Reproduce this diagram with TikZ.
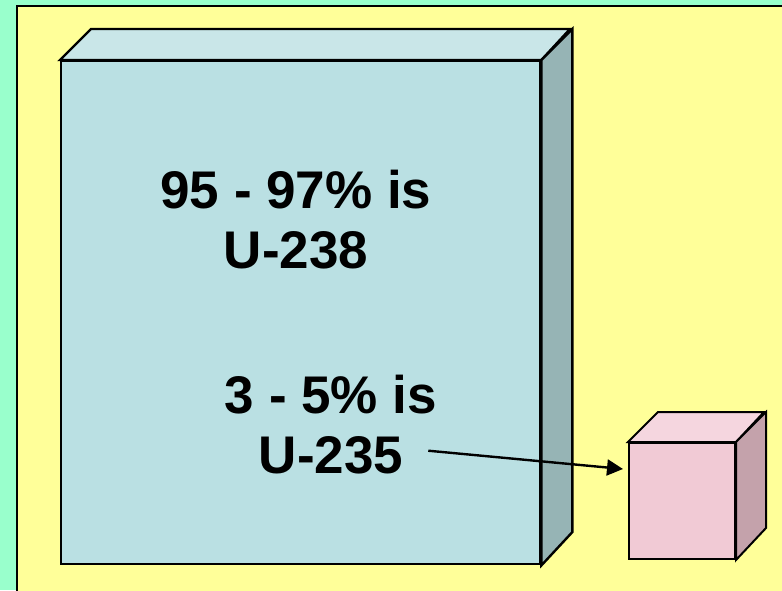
\documentclass[tikz,border=0pt]{standalone}
\usepackage{fontspec}
\setmainfont{Liberation Sans}
\usetikzlibrary{arrows.meta,calc}
\definecolor{mint}{HTML}{99FFCC}
\definecolor{paper}{HTML}{FFFF99}
\definecolor{bluefront}{HTML}{BAE0E3}
\definecolor{bluetop}{HTML}{C9E6E8}
\definecolor{blueside}{HTML}{96B4B5}
\definecolor{pinkfront}{HTML}{F1CAD5}
\definecolor{pinktop}{HTML}{F5D6DF}
\definecolor{pinkside}{HTML}{C4A2AB}
\tikzset{
  face/.style={draw=black, line width=2.4pt, line join=miter},
  smallface/.style={draw=black, line width=2pt, line join=miter},
  label/.style={font=\bfseries\fontsize{53}{60}\selectfont, align=center, inner sep=0pt},
  pointer/.style={draw=black, line width=2.4pt, -{Triangle[length=16pt,width=16pt]}}
}
\begin{document}
\begin{tikzpicture}[x=1pt,y=-1pt]
\useasboundingbox (0,0) rectangle (782,590);
\fill[mint] (0,0) rectangle (782,590);
% yellow sheet running off the right and bottom edges
\begin{scope}
\clip (0,0) rectangle (782,590);
\draw[fill=paper, line width=2.4pt] (17,6) rectangle (820,620);
\end{scope}

% large block: front, top and side faces
\node[face, fill=bluefront, minimum width=479pt, minimum height=503pt, inner sep=0pt, anchor=north west] (big) at (60,60) {};
\draw[face, fill=bluetop] (big.north west) -- ++(31,-31) -- ++(479,0) -- (big.north east) -- cycle;
\draw[face, fill=blueside] (big.north east) -- ++(31,-31) -- ++(0,503) -- (big.south east) -- cycle;

% small cube: front, top and side faces
\node[smallface, fill=pinkfront, minimum width=106pt, minimum height=116pt, inner sep=0pt, anchor=north west] (small) at (628,442) {};
\draw[smallface, fill=pinktop] (small.north west) -- ++(30,-30) -- ++(106,0) -- (small.north east) -- cycle;
\draw[smallface, fill=pinkside] (small.north east) -- ++(30,-30) -- ++(0,116) -- (small.south east) -- cycle;

% labels
\node[label] (u238) at (296,220) {95 - 97\% is\\U-238};
\node[label] (u235) at (331,425) {3 - 5\% is\\U-235};

% pointer from the U-235 label to the small cube
\coordinate (tail) at ($(u235.south east)+(-9,-24)$);
\coordinate (head) at ($(small.west)+(-5,-32)$);
\draw[pointer] (tail) -- (head);
\end{tikzpicture}
\end{document}
